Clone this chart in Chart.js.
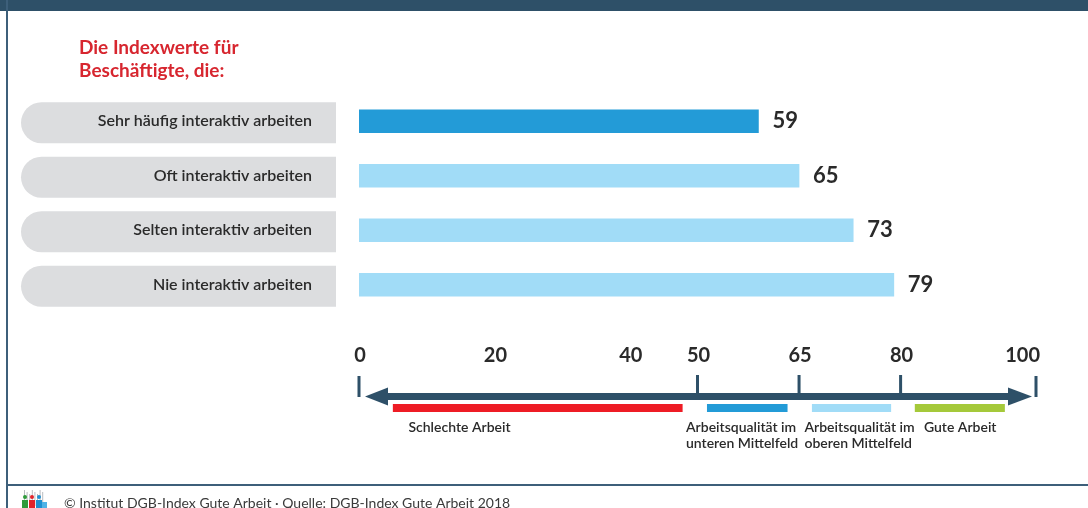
<!DOCTYPE html>
<html>
<head>
<meta charset="utf-8">
<script src="https://cdn.jsdelivr.net/npm/chart.js@4"></script>
<style>
html,body{margin:0;padding:0;background:#fff;}
canvas{display:block;}
</style>
</head>
<body>
<canvas id="c" width="1088" height="508"></canvas>
<script>
const titleLines = ['Die Indexwerte für', 'Beschäftigte, die:'];
const categories = ['Sehr häufig interaktiv arbeiten', 'Oft interaktiv arbeiten', 'Selten interaktiv arbeiten', 'Nie interaktiv arbeiten'];
const values = [59, 65, 73, 79];
const barColors = ['#239bd7', '#a1dcf7', '#a1dcf7', '#a1dcf7'];
const tickValues = [0, 20, 40, 50, 65, 80, 100];
const tickMarks = [0, 50, 65, 80, 100];
const bandRanges = [[5, 47.8], [51.4, 63.3], [66.9, 78.6], [82.1, 95.4]];
const bandColors = ['#ee1c25', '#239bd7', '#a1dcf7', '#a5c93a'];
const bandLabels = [['Schlechte Arbeit'], ['Arbeitsqualität im', 'unteren Mittelfeld'], ['Arbeitsqualität im', 'oberen Mittelfeld'], ['Gute Arbeit']];
const footerText = '© Institut DGB-Index Gute Arbeit · Quelle: DGB-Index Gute Arbeit 2018';

const FONT = 'Lato, "Noto Sans", sans-serif';
const DARK = '#2e5068';
const TXT = '#2a2a2a';

function roundLeftRect(ctx, x1, y1, x2, y2) {
  const r = (y2 - y1) / 2;
  ctx.beginPath();
  ctx.moveTo(x2, y1);
  ctx.lineTo(x1 + r, y1);
  ctx.arc(x1 + r, y1 + r, r, -Math.PI / 2, Math.PI / 2, true);
  ctx.lineTo(x2, y2);
  ctx.closePath();
  ctx.fill();
}

const decor = {
  id: 'decor',
  beforeDatasetsDraw(chart) {
    const ctx = chart.ctx;
    const ys = chart.scales.y;
    ctx.save();
    // frame
    ctx.fillStyle = DARK;
    ctx.fillRect(0, 0, 1088, 11);
    ctx.fillStyle = '#3d5f7a';
    ctx.fillRect(6, 0, 2, 508);
    ctx.fillRect(6, 484, 1082, 2);
    // title
    ctx.fillStyle = '#d7262f';
    ctx.font = 'bold 19px ' + FONT;
    ctx.textBaseline = 'alphabetic';
    ctx.textAlign = 'left';
    titleLines.forEach((t, i) => ctx.fillText(t, 79, 54 + i * 23));
    // pills
    categories.forEach((c, i) => {
      const yc = ys.getPixelForValue(i);
      ctx.fillStyle = '#dcdddf';
      roundLeftRect(ctx, 21, yc - 19, 336, yc + 22);
      ctx.fillStyle = TXT;
      ctx.font = '600 16px ' + FONT;
      ctx.textAlign = 'right';
      ctx.fillText(c, 312, yc + 5);
    });
    ctx.restore();
  },
  afterDatasetsDraw(chart) {
    const ctx = chart.ctx;
    const xs = chart.scales.x;
    const meta = chart.getDatasetMeta(0);
    ctx.save();
    // value labels
    ctx.fillStyle = TXT;
    ctx.font = 'bold 22px ' + FONT;
    ctx.textAlign = 'left';
    ctx.textBaseline = 'middle';
    meta.data.forEach((bar, i) => {
      ctx.fillText(String(values[i]), bar.x + 14, bar.y);
    });
    // axis tick labels
    ctx.font = 'bold 20px ' + FONT;
    ctx.textBaseline = 'alphabetic';
    tickValues.forEach((v, i) => {
      const last = i === tickValues.length - 1;
      ctx.textAlign = last ? 'right' : 'center';
      const x = xs.getPixelForValue(v) + (last ? 4 : 1);
      ctx.fillText(String(v), x, 362);
    });
    // arrow
    const x0 = xs.getPixelForValue(0), x100 = xs.getPixelForValue(100);
    const yc = 396.5;
    ctx.fillStyle = DARK;
    ctx.fillRect(x0 + 25, yc - 3.5, (x100 - 28) - (x0 + 25), 7);
    ctx.beginPath();
    ctx.moveTo(x0 + 6, yc);
    ctx.lineTo(x0 + 29, yc - 9);
    ctx.lineTo(x0 + 29, yc + 9);
    ctx.closePath();
    ctx.fill();
    ctx.beginPath();
    ctx.moveTo(x100 - 4, yc);
    ctx.lineTo(x100 - 28, yc - 9);
    ctx.lineTo(x100 - 28, yc + 9);
    ctx.closePath();
    ctx.fill();
    tickMarks.forEach(v => {
      const x = xs.getPixelForValue(v);
      if (v === 0 || v === 100) ctx.fillRect(x - 1.5, 376, 3, 21);
      else ctx.fillRect(x - 1.5, 375, 3, 20);
    });
    // bands
    bandRanges.forEach((r, i) => {
      ctx.fillStyle = bandColors[i];
      const a = xs.getPixelForValue(r[0]), b = xs.getPixelForValue(r[1]);
      ctx.fillRect(a, 404, b - a, 8);
    });
    // band labels
    const anchors = [[7.3, 'left'], [48.3, 'left'], [65.8, 'left'], [88.8, 'center']];
    ctx.fillStyle = TXT;
    ctx.font = '600 14px ' + FONT;
    bandLabels.forEach((lines, i) => {
      ctx.textAlign = anchors[i][1];
      const x = xs.getPixelForValue(anchors[i][0]);
      lines.forEach((t, j) => ctx.fillText(t, x, 432 + j * 16));
    });
    // footer logo
    const lx = 22;
    ctx.fillStyle = '#b9bcc0';
    for (let k = 0; k < 8; k++) ctx.fillRect(lx + 2 + k * 2.6, 490 + (k % 3) * 2, 1, 14);
    ctx.fillStyle = '#2e9b3a'; ctx.fillRect(lx, 500, 6, 8); ctx.beginPath(); ctx.arc(lx + 3, 497, 2, 0, 7); ctx.fill();
    ctx.fillStyle = '#e2242b'; ctx.fillRect(lx + 7, 500, 6, 8); ctx.beginPath(); ctx.arc(lx + 10, 497, 2, 0, 7); ctx.fill();
    ctx.fillStyle = '#1f8fd0'; ctx.fillRect(lx + 14, 500, 6, 8); ctx.beginPath(); ctx.arc(lx + 17, 497, 2, 0, 7); ctx.fill();
    ctx.fillStyle = '#4fb2e6'; ctx.fillRect(lx + 20, 502, 5, 6);
    // footer text
    ctx.fillStyle = '#3a3a3a';
    ctx.font = '14px ' + FONT;
    ctx.textAlign = 'left';
    ctx.fillText(footerText, 64, 508);
    ctx.restore();
  }
};

new Chart(document.getElementById('c'), {
  type: 'bar',
  data: {
    labels: categories,
    datasets: [{ data: values, backgroundColor: barColors, barThickness: 23, borderWidth: 0 }]
  },
  options: {
    indexAxis: 'y',
    responsive: false,
    animation: false,
    devicePixelRatio: 1,
    layout: { padding: { left: 359, right: 52, top: 94, bottom: 196 } },
    plugins: { legend: { display: false }, tooltip: { enabled: false } },
    scales: {
      x: { min: 0, max: 100, display: false },
      y: { display: false }
    }
  },
  plugins: [decor]
});
</script>
</body>
</html>
